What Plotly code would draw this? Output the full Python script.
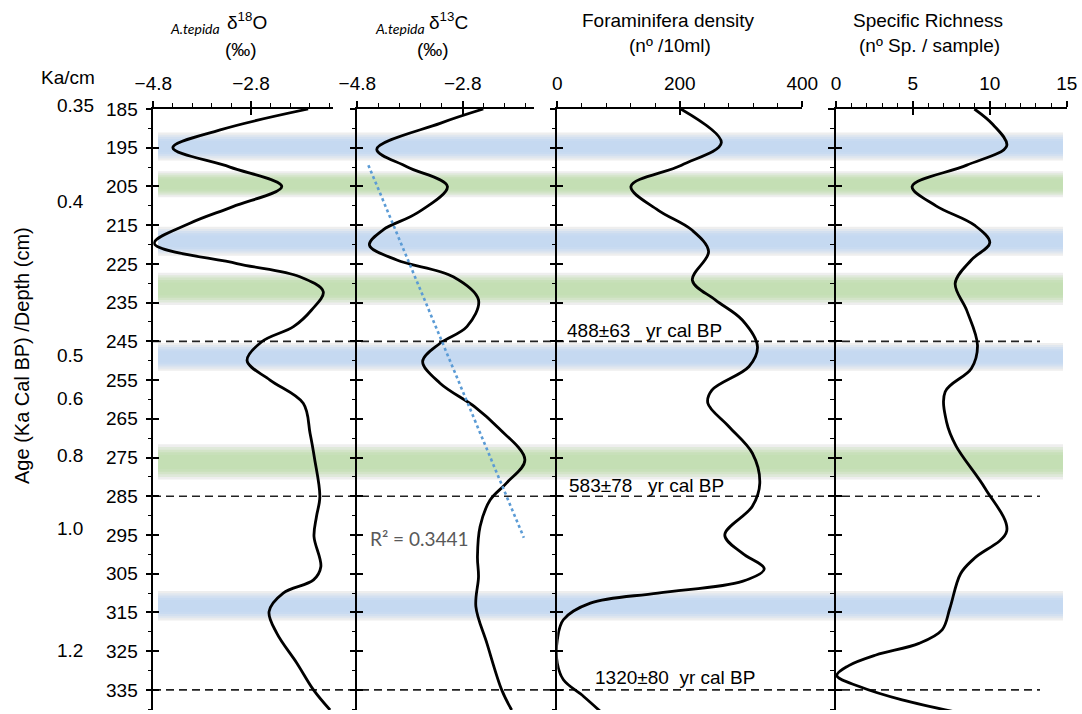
import plotly.graph_objects as go

W, H = 1082, 714

# ---------------- data ----------------
d18o_depth = [185, 190.4, 195, 200, 205, 210.2, 214.5, 219.7, 224.9, 228.3, 232.2, 236.9, 241.2, 245.1,
              250, 255, 261, 268.8, 275.2, 285.1, 290.3, 295.4, 303.2, 306.6, 310.0, 314.8, 320.4,
              328.1, 335, 340.2]
d18o_val = [-1.63, -3.43, -4.40, -3.23, -2.17, -3.17, -4.05, -4.78, -3.09, -1.80, -1.32, -1.56, -1.93, -2.58,
            -2.88, -2.41, -1.73, -1.59, -1.50, -1.39, -1.46, -1.51, -1.37, -1.52, -2.14, -2.43, -2.27,
            -1.86, -1.52, -1.18]

d13c_depth = [185, 188.7, 195.4, 199.9, 205.0, 211.9, 216.2, 220.1, 224.0, 228.3, 234.3, 241.2, 245.5,
              250.2, 255.8, 261.9, 267.0, 275.6, 281.6, 286.0, 292.8, 300.6, 305.8, 313.5, 323.0, 335, 340.2]
d13c_val = [-2.41, -3.23, -4.43, -3.86, -3.09, -3.67, -4.31, -4.57, -4.05, -2.98, -2.50, -2.72, -3.23,
            -3.56, -3.23, -2.57, -2.15, -1.62, -1.97, -2.28, -2.47, -2.52, -2.50, -2.55, -2.34, -2.06, -1.87]

dens_depth = [185, 193.7, 199.5, 205.0, 211.1, 216.2, 221.8, 229.2, 234.3, 239.5, 246.4, 251.5, 257.6,
              261.0, 267.0, 273.9, 281.6, 287.6, 295.0, 299.7, 303.8, 307.0, 310.0, 312.6, 316.9, 322.1,
              328.1, 332.4, 336.7, 340.6]
dens_val = [201.7, 267.8, 202.8, 120.2, 164.3, 219.3, 247.0, 220.5, 257.9, 302.0, 326.8, 313.0, 252.4,
            245.8, 280.0, 318.5, 330.6, 318.5, 273.4, 302.0, 337.9, 302.0, 164.3, 54.0, 9.9, 0.0,
            0.0, 10.0, 43.0, 70.6]

rich_depth = [185, 189, 194.5, 199.5, 205, 210, 215, 219.5, 224, 230, 237, 246, 252, 258, 266, 272,
              283, 294, 301, 305, 314, 319.5, 323, 326, 328.8, 331.3, 334.2, 337.6, 340.7]
rich_val = [9.0, 10.2, 11.1, 8.5, 4.95, 6.5, 9.0, 10.0, 8.8, 7.75, 8.5, 9.2, 8.8, 7.1, 7.2, 7.8,
            9.7, 11.1, 9.0, 8.1, 7.4, 6.9, 5.4, 2.6, 0.8, 0.05, 1.56, 4.3, 7.75]

trend_val = [-4.59, -1.64]
trend_depth = [199.5, 295.7]

band_kind = ["blue", "green", "blue", "green", "blue", "green", "blue"]
band_top = [191.1, 201.1, 215.4, 227.3, 245.4, 271.6, 309.5]
band_bot = [198.3, 207.8, 222.9, 235.6, 252.6, 280.7, 317.1]

date_depths = [245, 285, 335]
date_labels = ["488±63   yr cal BP", "583±78   yr cal BP", "1320±80  yr cal BP"]
date_label_depth = [242.1, 282.1, 331.9]

age_labels = ["0.35", "0.4", "0.5", "0.6", "0.8", "1.0", "1.2"]
age_depths = [184, 208.9, 248.6, 259.7, 274.4, 293.3, 324.8]

depth_range = [340.2, 185]

# ---------------- layout helpers ----------------
def px_x(p):
    return p / W

def px_y(p):
    return 1 - p / H

FONT = "Liberation Sans, Arial, sans-serif"
ydom = [px_y(710), px_y(109)]

def depth_to_paper(d):
    return ydom[0] + (depth_range[0] - d) / (depth_range[0] - depth_range[1]) * (ydom[1] - ydom[0])

xdoms = [[px_x(153.3), px_x(333)], [px_x(357.3), px_x(534)],
         [px_x(557.3), px_x(802.3)], [px_x(836), px_x(1066.7)]]
xranges = [[-4.8, -1.121], [-4.8, -1.447], [0, 400], [0, 15]]
xtick0 = [-4.8, -4.8, 0, 0]
xdtick = [2, 2, 200, 5]
xminor = [0.4, 0.4, 40, 1]

fig = go.Figure()

series = [(d18o_val, d18o_depth), (d13c_val, d13c_depth), (dens_val, dens_depth), (rich_val, rich_depth)]
for i, (v, d) in enumerate(series, 1):
    sfx = "" if i == 1 else str(i)
    fig.add_trace(go.Scatter(x=v, y=d, mode="lines",
                             line=dict(color="black", width=2.8, shape="spline", smoothing=1.0),
                             xaxis="x" + sfx, yaxis="y" + sfx, showlegend=False, hoverinfo="skip",
                             cliponaxis=False))

fig.add_trace(go.Scatter(x=trend_val, y=trend_depth, mode="lines",
                         line=dict(color="#5b9bd5", width=2.6, dash="dot"),
                         xaxis="x2", yaxis="y2", showlegend=False, hoverinfo="skip"))

# dummy traces for overlay (cross tick) axes
for i in range(1, 5):
    fig.add_trace(go.Scatter(x=[None], y=[None], mode="lines", xaxis=f"x{i+4}", yaxis=f"y{i+4}",
                             showlegend=False, hoverinfo="skip"))

lay = {}
for i in range(1, 5):
    sfx = "" if i == 1 else str(i)
    k = i - 1
    lay["xaxis" + sfx] = dict(domain=xdoms[k], range=xranges[k], side="top", anchor="y" + sfx,
                              showgrid=False, zeroline=False, showline=True, linecolor="black", linewidth=1.5,
                              ticks="outside", ticklen=6, tickwidth=1.5, tickcolor="black",
                              tick0=xtick0[k], dtick=xdtick[k], automargin=False,
                              minor=dict(ticks="outside", ticklen=4, tickwidth=1.2, tickcolor="black",
                                         tick0=xtick0[k], dtick=xminor[k], showgrid=False),
                              tickfont=dict(family=FONT, size=19, color="black"),
                              ticklabelstandoff=4, fixedrange=True)
    lay["yaxis" + sfx] = dict(domain=ydom, range=depth_range, anchor="x" + sfx,
                              showgrid=False, zeroline=False, showline=True, linecolor="black", linewidth=1.5,
                              ticks="outside", ticklen=6, tickwidth=1.5, tickcolor="black",
                              tick0=185, dtick=10, automargin=False,
                              minor=dict(ticks="outside", ticklen=4, tickwidth=1.2, tickcolor="black",
                                         tick0=185, dtick=5, showgrid=False),
                              showticklabels=(i == 1),
                              tickfont=dict(family=FONT, size=19, color="black"),
                              ticklabelstandoff=4, fixedrange=True)
    # overlay axes to make major ticks cross the line
    lay[f"xaxis{i+4}"] = dict(overlaying="x" + sfx, range=xranges[k], side="top", anchor=f"y{i+4}",
                              showgrid=False, zeroline=False, showline=False, showticklabels=False,
                              ticks="inside", ticklen=6, tickwidth=1.5, tickcolor="black", automargin=False,
                              tick0=xtick0[k], dtick=xdtick[k], fixedrange=True)
    lay[f"yaxis{i+4}"] = dict(overlaying="y" + sfx, range=depth_range, side="left", anchor=f"x{i+4}",
                              showgrid=False, zeroline=False, showline=False, showticklabels=False,
                              ticks="inside", ticklen=6, tickwidth=1.5, tickcolor="black", automargin=False,
                              tick0=185, dtick=10, fixedrange=True)

shapes = []
colors = {"blue": (197, 217, 241), "green": (196, 223, 180)}
edge = (238, 238, 238)

def mix(c1, c2, t):
    return "rgb(%d,%d,%d)" % tuple(round(a + (b - a) * t) for a, b in zip(c1, c2))

steps = [(1.0, 0.0), (0.85, 0.35), (0.7, 0.65), (0.55, 0.9), (0.4, 1.0)]
for kind, t0, t1 in zip(band_kind, band_top, band_bot):
    c = (t0 + t1) / 2
    h = (t1 - t0) / 2
    for frac, t in steps:
        shapes.append(dict(type="rect", xref="paper", yref="y", x0=px_x(158), x1=px_x(1063),
                           y0=c - h * frac, y1=c + h * frac, line=dict(width=0),
                           fillcolor=mix(edge, colors[kind], t), layer="below"))

for d in date_depths:
    shapes.append(dict(type="line", xref="paper", yref="y", x0=px_x(153), x1=px_x(1040), y0=d, y1=d,
                       line=dict(color="#222222", width=1.6, dash="8px,5px"), layer="below"))

ann = []
date_x = [565, 567, 593]
for lab, d, xp in zip(date_labels, date_label_depth, date_x):
    ann.append(dict(text=lab, xref="paper", yref="paper", x=px_x(xp), y=depth_to_paper(d),
                    xanchor="left", yanchor="middle",
                    showarrow=False, font=dict(family=FONT, size=19, color="black")))

for lab, d in zip(age_labels, age_depths):
    ann.append(dict(text=lab, xref="paper", yref="paper", x=px_x(55), y=depth_to_paper(d),
                    xanchor="left", yanchor="middle",
                    showarrow=False, font=dict(family=FONT, size=19, color="black")))

ann.append(dict(text="R² = 0.3441", xref="paper", yref="paper", x=px_x(368), y=depth_to_paper(296.0),
                xanchor="left", yanchor="middle", showarrow=False,
                font=dict(family="Lato, Open Sans, sans-serif", size=19, color="#595959")))

def top_text(text, xp, yp, size=19, family=FONT, anchor="center", italic=False):
    ann.append(dict(text=text, xref="paper", yref="paper", x=px_x(xp), y=px_y(yp), xanchor=anchor,
                    yanchor="middle", showarrow=False,
                    font=dict(family=family, size=size, color="black", style="italic" if italic else "normal")))

top_text("A.tepida", 168, 29, size=14, family="Lato, Open Sans, sans-serif", anchor="left", italic=True)
top_text("δ<sup>18</sup>O", 225, 21, anchor="left")
top_text("(‰)", 241, 50)
top_text("A.tepida", 373, 29, size=14, family="Lato, Open Sans, sans-serif", anchor="left", italic=True)
top_text("δ<sup>13</sup>C", 427, 21, anchor="left")
top_text("(‰)", 433, 50)
top_text("Foraminifera density", 668, 20)
top_text("(nº /10ml)", 670, 46)
top_text("Specific Richness", 928, 20)
top_text("(nº Sp. / sample)", 929, 46)
top_text("Ka/cm", 39, 77, anchor="left")

ann.append(dict(text="Age (Ka Cal BP) /Depth (cm)", xref="paper", yref="paper", x=px_x(22), y=px_y(356),
                textangle=-90, showarrow=False, xanchor="center", yanchor="middle",
                font=dict(family=FONT, size=20, color="black")))

fig.update_layout(width=W, height=H, autosize=False,
                  margin=dict(l=0, r=0, t=0, b=0, pad=0, autoexpand=False),
                  paper_bgcolor="white", plot_bgcolor="rgba(0,0,0,0)",
                  shapes=shapes, annotations=ann, showlegend=False, **lay)

fig.write_html("out.html", config={"responsive": False, "displayModeBar": False},
               post_script="document.body.style.margin='0';document.body.style.padding='0';"
                           "document.body.style.overflow='hidden';")
